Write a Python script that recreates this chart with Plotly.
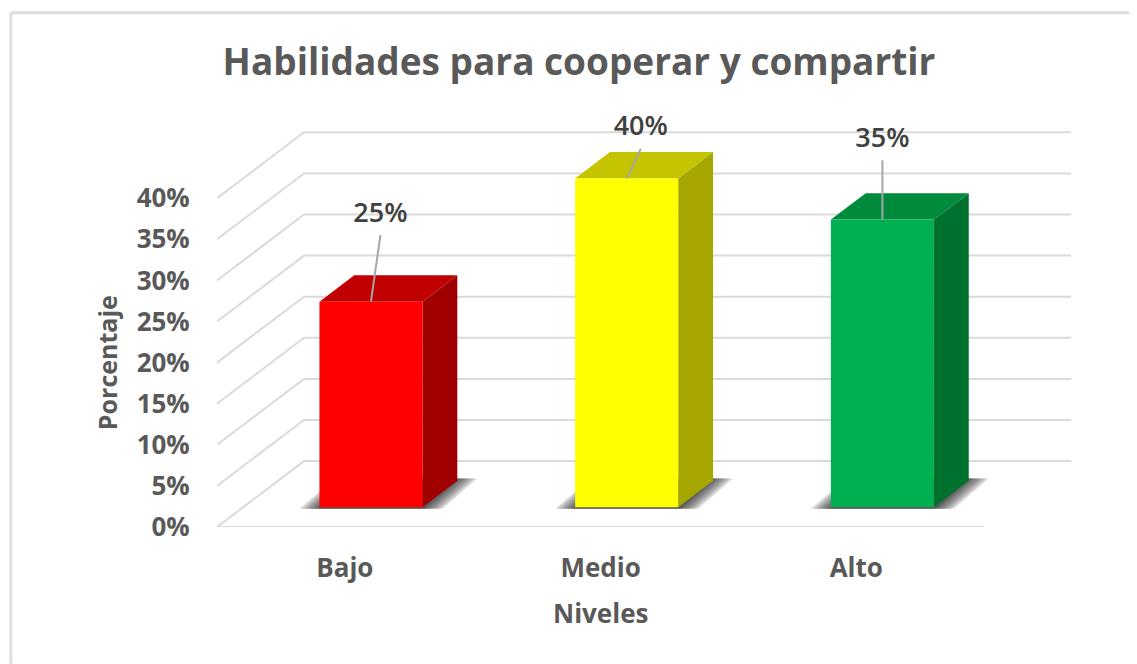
import plotly.graph_objects as go

categories = ["Bajo", "Medio", "Alto"]
values = [25, 40, 35]
front_colors = ["#ff0000", "#ffff00", "#00b050"]
top_colors = ["#c00000", "#c4c400", "#008a3c"]
side_colors = ["#a00000", "#a6a600", "#00702f"]
y_ticks = [0, 5, 10, 15, 20, 25, 30, 35, 40]
y_tick_labels = ["0%", "5%", "10%", "15%", "20%", "25%", "30%", "35%", "40%"]
leader_dx = [0.037, 0.055, 0.0]
leader_dy = [8.1, 3.6, 7.2]

OFF = 8            # default page margin of the browser
W, H = 1137 - OFF, 664 - OFF
L, B = 217 - OFF, 137
UX = 255.6
UY = 8.23
X_MAX, Y_MAX = 3.5, 50
DX = 87 / UX       # depth shift in category units
DY = 66 / UY       # depth shift in percent
D0, D1 = 0.30, 0.70
HALF = 51.5 / UX
GRID = "#dadada"
TXT = "#595959"
FONT = "Open Sans"
PW, PH = X_MAX * UX, Y_MAX * UY

def proj(x, y, d):
    return x + d * DX, y + d * DY

def px(page_x):
    return (page_x - OFF - L) / PW

def py(page_y):
    return (H - B - (page_y - OFF)) / PH

fig = go.Figure()

def poly(pts, color):
    fig.add_trace(go.Scatter(x=[p[0] for p in pts] + [pts[0][0]], y=[p[1] for p in pts] + [pts[0][1]],
                             mode="lines", fill="toself", fillcolor=color, line=dict(width=0),
                             hoverinfo="skip", showlegend=False))

# walls
for v in y_ticks:
    pts = [proj(0, v, 0), proj(0, v, 1), proj(3, v, 1)]
    if v == 0:
        pts = [proj(3, 0, 0)] + pts
    fig.add_trace(go.Scatter(x=[p[0] for p in pts], y=[p[1] for p in pts], mode="lines",
                             line=dict(color=GRID, width=2), hoverinfo="skip", showlegend=False))

# bars
for i, v in enumerate(values):
    cx = i + 0.5
    l, r = cx - HALF, cx + HALF
    # shadow: stacked translucent layers fake the soft edge
    for spread in [20, 17, 14, 11, 8, 5, 3, 1]:
        k = spread / UX
        fx_l, fy = proj(l - k, -0.2, D0)
        fx_r, _ = proj(r + k, -0.2, D0)
        bx_r, by = proj(r + k, 0.3, D1)
        bx_l, _ = proj(l - k, 0.3, D1)
        poly([(fx_l, fy), (fx_r, fy), (bx_r, by), (bx_l, by)], "rgba(40,40,40,0.17)")
    poly([proj(r, 0, D0), proj(r, 0, D1), proj(r, v, D1), proj(r, v, D0)], side_colors[i])
    poly([proj(l, v, D0), proj(r, v, D0), proj(r, v, D1), proj(l, v, D1)], top_colors[i])
    poly([proj(l, 0, D0), proj(r, 0, D0), proj(r, v, D0), proj(l, v, D0)], front_colors[i])
    # leader line and label
    base = proj(cx, v, D0)
    tip = (base[0] + leader_dx[i], base[1] + leader_dy[i])
    fig.add_trace(go.Scatter(x=[base[0], tip[0]], y=[base[1], tip[1]], mode="lines",
                             line=dict(color="#a6a6a6", width=2), hoverinfo="skip", showlegend=False))
    fig.add_trace(go.Scatter(x=[tip[0]], y=[tip[1] + 2.45], mode="text", text=[f"{v}%"],
                             textfont=dict(family=FONT, size=27, color="#404040", weight=600),
                             textposition="middle center", hoverinfo="skip", showlegend=False))

fig.update_layout(
    width=W, height=H, autosize=False,
    margin=dict(l=L, r=W - L - PW, t=H - B - PH, b=B),
    paper_bgcolor="white", plot_bgcolor="rgba(0,0,0,0)", showlegend=False,
    title=dict(text="<b>Habilidades para cooperar y compartir</b>", x=(579 - OFF) / W, xanchor="center",
               y=1 - (62 - OFF) / H, yanchor="middle", font=dict(family=FONT, size=37, color=TXT)),
    xaxis=dict(range=[0, X_MAX], tickvals=[0.5, 1.5, 2.5], ticktext=[f"<b>{c}</b>" for c in categories],
               showgrid=False, zeroline=False, showline=False, ticks="outside", ticklen=18,
               tickcolor="rgba(0,0,0,0)", tickfont=dict(family=FONT, size=26, color=TXT)),
    yaxis=dict(range=[0, Y_MAX], tickvals=y_ticks, ticktext=[f"<b>{t}</b>" for t in y_tick_labels],
               showgrid=False, zeroline=False, showline=False, ticks="outside", ticklen=21,
               tickcolor="rgba(0,0,0,0)", tickfont=dict(family=FONT, size=26, color=TXT)),
    annotations=[
        dict(text="<b>Porcentaje</b>", xref="paper", yref="paper", showarrow=False, textangle=-90,
             x=px(107), y=py(362), xanchor="center", yanchor="middle",
             font=dict(family=FONT, size=25, color=TXT)),
        dict(text="<b>Niveles</b>", xref="paper", yref="paper", showarrow=False,
             x=px(600), y=py(613), xanchor="center", yanchor="middle",
             font=dict(family=FONT, size=26, color=TXT)),
    ],
    shapes=[dict(type="line", xref="paper", yref="paper", layer="below",
                 x0=px(11), x1=px(11), y0=py(12), y1=py(664),
                 line=dict(color="#dedede", width=3)),
            dict(type="line", xref="paper", yref="paper", layer="below",
                 x0=px(11), x1=px(1137), y0=py(12), y1=py(12),
                 line=dict(color="#dedede", width=3))],
)

fig.write_html("out.html")
